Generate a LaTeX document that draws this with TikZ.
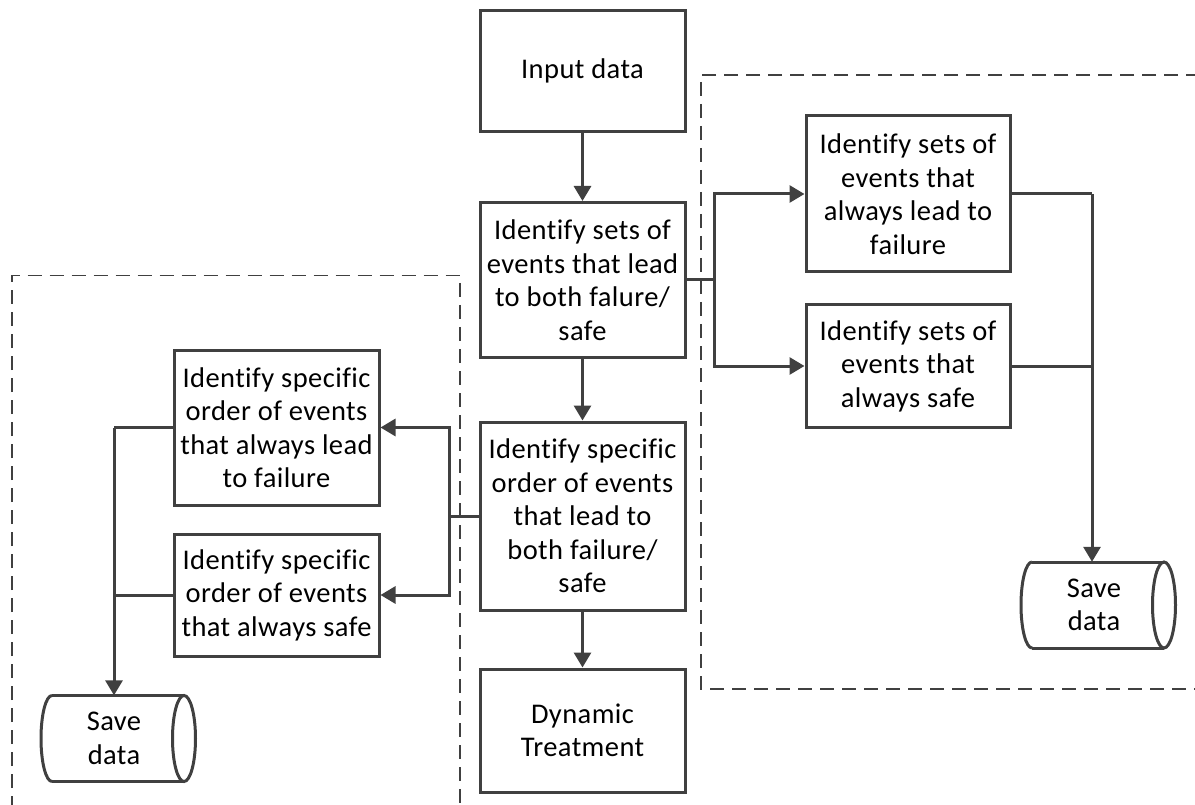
\documentclass[tikz,border=0pt]{standalone}
\usepackage{fontspec}
\setmainfont{Carlito}[Ligatures=NoCommon,LetterSpace=1.5]
\usetikzlibrary{arrows.meta,calc}
\definecolor{ln}{HTML}{404040}
\begin{document}
\begin{tikzpicture}[x=1pt,y=-1pt,
  txt/.style={font=\fontsize{28.5}{33.5}\selectfont},
  box/.style={txt, draw=ln, line width=3pt, align=center, inner sep=0pt, minimum width=205pt},
  conn/.style={draw=ln, line width=3pt},
  arr/.style={conn, -{Triangle[length=15pt,width=17pt]}},
  dsh/.style={draw=ln, line width=1.8pt, dash pattern=on 14pt off 8pt},
  store/.style={txt, inner sep=0pt, align=center, minimum width=120pt, minimum height=86pt}]
\useasboundingbox (0,0) rectangle (1195,805);

% dashed groups
\draw[dsh] (12,810) -- (12,275.5) -- (460,275.5) -- (460,810);
\draw[dsh] (1200,75) -- (701,75) -- (701,689) -- (1200,689);

% central column
\node[box, minimum height=121pt] (in) at (582.5,71) {Input data};
\node[box, minimum height=155pt] (b2) at (582.5,280) {Identify sets of\\events that lead\\to both falure/\\safe};
\node[box, minimum height=188pt] (b3) at (582.5,516) {Identify specific\\order of events\\that lead to\\both failure/\\safe};
\node[box, minimum height=123pt] (dyn) at (582.5,730.5) {Dynamic\\Treatment};

% right group
\node[box, minimum width=204pt, minimum height=156pt] (rf) at (908,194) {Identify sets of\\events that\\always lead to\\failure};
\node[box, minimum width=204pt, minimum height=122pt] (rs) at (908,366) {Identify sets of\\events that\\always safe};
\node[store] (sr) at (1094,605) {Save\\data};

% left group
\node[box, minimum height=155pt] (lf) at (276.5,427.5) {Identify specific\\order of events\\that always lead\\to failure};
\node[box, minimum height=122pt] (ls) at (276.5,595) {Identify specific\\order of events\\that always safe};
\node[store] (sl) at (114,738.5) {Save\\data};

% storage shapes
\foreach \s in {sr,sl}{
  \draw[conn] ($(\s.center)+(-62,-43)$) -- ($(\s.center)+(70,-43)$)
              ($(\s.center)+(-62,43)$) -- ($(\s.center)+(70,43)$);
  \draw[conn] ($(\s.center)+(70,0)$) ellipse [x radius=11.5pt, y radius=43pt];
  \draw[conn] ($(\s.center)+(-62,-43)$) arc[start angle=90, end angle=270, x radius=11pt, y radius=43pt];
}

% central arrows
\draw[arr] (in) -- (b2);
\draw[arr] (b2) -- (b3);
\draw[arr] (b3) -- (dyn);

% right connectors
\coordinate (rj) at (714,280);
\draw[conn] (b2.east) -- (rj);
\draw[arr] (rj) |- (rf.west);
\draw[arr] (rj) |- (rs.west);
\coordinate (rb) at (1092,194);
\draw[conn] (rf.east) -- (rb);
\draw[conn] (rs.east) -- (rb |- rs.east);
\draw[arr] (rb) -- (rb |- sr.north);

% left connectors
\coordinate (lj) at (449,516);
\draw[conn] (b3.west) -- (lj);
\draw[arr] (lj) |- (lf.east);
\draw[arr] (lj) |- (ls.east);
\coordinate (lb) at (114,427.5);
\draw[conn] (lf.west) -- (lb);
\draw[conn] (ls.west) -- (lb |- ls.west);
\draw[arr] (lb) -- (lb |- sl.north);
\end{tikzpicture}
\end{document}
